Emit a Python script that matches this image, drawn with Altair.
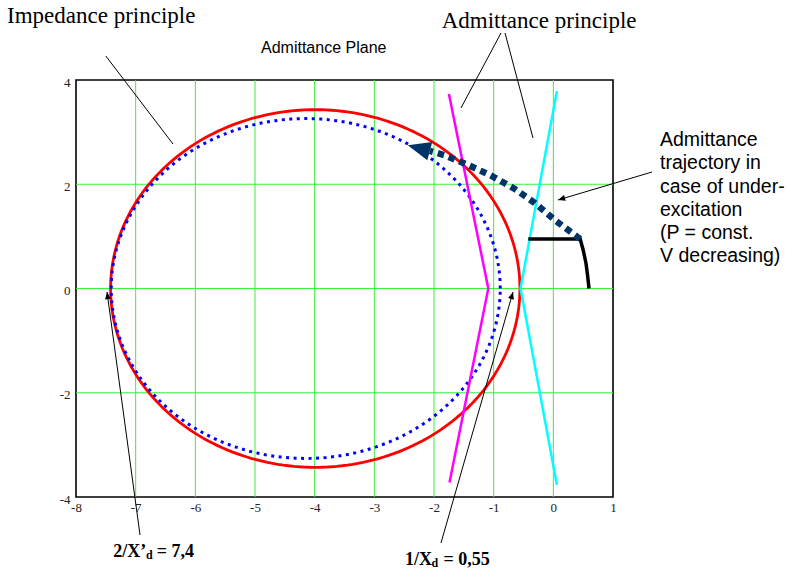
import math

import altair as alt
import pandas as pd

# ---- axes -----------------------------------------------------------------
x_ticks = [-8, -7, -6, -5, -4, -3, -2, -1, 0, 1]
y_ticks = [-4, -2, 0, 2, 4]
x_grid = [-7, -6, -5, -4, -3, -2, -1, 0]
y_grid = [-2, 0, 2]

# ---- circles in the admittance plane (centre on the real axis, radius) ------
red_center, red_radius = -3.99, 3.43
blue_center, blue_radius = -4.15, 3.26

# ---- limit lines -----------------------------------------------------------
magenta_x = [-1.75, -1.09, -1.74]
magenta_y = [3.73, 0.0, -3.72]
cyan_x = [0.06, -0.55, 0.06]
cyan_y = [3.79, 0.0, -3.77]

# operating point limit (thick black)
limit_x = [-0.42, 0.45, 0.50, 0.548, 0.576, 0.598]
limit_y = [0.95, 0.95, 0.74, 0.48, 0.23, 0.0]

# admittance trajectory under under-excitation (P const, V decreasing)
traj_x = [0.45, 0.04, -0.31, -0.66, -1.05, -1.43, -1.83, -2.07]
traj_y = [0.95, 1.30, 1.64, 1.92, 2.17, 2.37, 2.56, 2.64]
traj_tip_x, traj_tip_y, traj_tip_angle = -2.44, 2.75, 285

# ---- annotation leader lines: (x_start, y_start, x_end, y_end) --------------
leader_x = [-7.50, -0.877, -0.810, 1.654, -6.927, -1.883]
leader_y = [4.46, 4.902, 4.902, 2.235, -4.729, -4.882]
leader_x2 = [-6.374, -1.548, -0.341, 0.078, -7.480, -0.676]
leader_y2 = [2.772, 3.463, 2.887, 1.698, -0.067, -0.067]
# arrowheads at the end of leader lines 4..6
head_idx = [3, 4, 5]
head_angle = [253, 352, 16]

HEAD_PATH = "M0,0L1,2.4L-1,2.4Z"
SERIF = "Liberation Serif"
SANS = "Liberation Sans"

xs = alt.Scale(domain=[-8, 1], nice=False, zero=False)
ys = alt.Scale(domain=[-4, 4], nice=False, zero=False)
label_expr = "replace(datum.label, '\u2212', '-')"
axis_style = dict(grid=False, ticks=False, domain=False, title=None,
                  labelFlush=False, labelOverlap=False, labelExpr=label_expr,
                  labelFont=SERIF, labelFontSize=13, labelColor="#222222")
x_axis = alt.Axis(values=x_ticks, labelPadding=4, **axis_style)
y_axis = alt.Axis(values=y_ticks, labelPadding=6, labelOffset=2, **axis_style)


def X(field="x"):
    return alt.X(f"{field}:Q", scale=xs, axis=x_axis)


def Y(field="y"):
    return alt.Y(f"{field}:Q", scale=ys, axis=y_axis)


def path_df(xv, yv):
    return pd.DataFrame({"x": xv, "y": yv, "i": range(len(xv))})


def circle_df(cx, r, n=240):
    t = [2 * math.pi * k / n for k in range(n + 1)]
    return path_df([cx + r * math.cos(a) for a in t], [r * math.sin(a) for a in t])


def line_layer(df, **style):
    return alt.Chart(df).mark_line(**style).encode(x=X(), y=Y(), order="i:Q")


grid_v = alt.Chart(pd.DataFrame({"x": x_grid})).mark_rule(
    color="#3cf03c", strokeWidth=1).encode(x=X())
grid_h = alt.Chart(pd.DataFrame({"y": y_grid})).mark_rule(
    color="#3cf03c", strokeWidth=1).encode(y=Y())

red = line_layer(circle_df(red_center, red_radius), color="#ff0000", strokeWidth=2.8)
blue = line_layer(circle_df(blue_center, blue_radius), color="#0000ff",
                  strokeWidth=3, strokeDash=[3, 4.5])
magenta = line_layer(path_df(magenta_x, magenta_y), color="#ff00ff", strokeWidth=2.5)
cyan = line_layer(path_df(cyan_x, cyan_y), color="#00ffff", strokeWidth=2.5)
limit = line_layer(path_df(limit_x, limit_y), color="#000000", strokeWidth=3.5,
                   strokeJoin="miter")
traj = line_layer(path_df(traj_x, traj_y), color="#003366", strokeWidth=6.5,
                  strokeDash=[6.5, 5])
traj_head = alt.Chart(pd.DataFrame({"x": [traj_tip_x], "y": [traj_tip_y]})).mark_point(
    shape=HEAD_PATH, filled=True, color="#003366", opacity=1, size=361,
    angle=traj_tip_angle).encode(x=X(), y=Y())

leaders = alt.Chart(pd.DataFrame({"x": leader_x, "y": leader_y,
                                  "x2": leader_x2, "y2": leader_y2})).mark_rule(
    color="#000000", strokeWidth=1).encode(x=X(), y=Y(), x2="x2:Q", y2="y2:Q")

heads = [
    alt.Chart(pd.DataFrame({"x": [leader_x2[k]], "y": [leader_y2[k]]})).mark_point(
        shape=HEAD_PATH, filled=True, color="#000000", opacity=1, size=36,
        angle=a).encode(x=X(), y=Y())
    for k, a in zip(head_idx, head_angle)
]

# ---- texts -----------------------------------------------------------------
texts = [
    # text, x, y, font, size, weight
    ("Impedance principle", -9.156, 5.099, SERIF, 23, "normal"),
    ("Admittance principle", -1.871, 4.992, SERIF, 23, "normal"),
    ("Admittance Plane", -4.899, 4.512, SANS, 16, "normal"),
    ("Admittance\ntrajectory in\ncase of under-\nexcitation\n(P = const.\nV decreasing)",
     1.788, 2.734, SANS, 19.5, "normal"),
    ("2/X\u2019", -7.375, -5.157, SERIF, 18, "bold"),
    ("d", -6.827, -5.19, SERIF, 12, "bold"),
    ("= 7,4", -6.648, -5.157, SERIF, 18, "bold"),
    ("1/X", -2.486, -5.31, SERIF, 18, "bold"),
    ("d", -2.04, -5.34, SERIF, 12, "bold"),
    ("= 0,55", -1.84, -5.31, SERIF, 18, "bold"),
]
text_layers = [
    alt.Chart(pd.DataFrame({"x": [tx], "y": [ty], "t": [t]})).mark_text(
        align="left", baseline="alphabetic", font=f, fontSize=s, fontWeight=w,
        color="#000000", lineBreak="\n", lineHeight=23.3).encode(
        x=X(), y=Y(), text="t:N")
    for t, tx, ty, f, s, w in texts
]

chart = alt.layer(
    grid_v, grid_h, red, blue, magenta, cyan, limit, traj, traj_head,
    leaders, *heads, *text_layers,
).properties(
    width=537, height=417,
    background="#ffffff",
    autosize=alt.AutoSizeParams(type="none"),
    padding={"left": 76, "top": 80, "right": 176, "bottom": 74},
).configure_view(
    stroke="#000000", strokeWidth=1.6,
)

chart.save("out.html", embed_options={"renderer": "svg", "actions": False})
